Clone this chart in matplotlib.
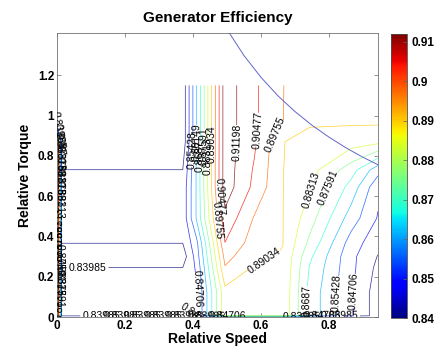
import numpy as np
import matplotlib
matplotlib.use('Agg')
import matplotlib.pyplot as plt
from matplotlib import colors, cm

plt.rcParams['font.family'] = ['Liberation Sans', 'DejaVu Sans']

# grid of the efficiency map (relative speed x relative torque)
speed = [0, 0.014, 0.37, 0.41, 0.494, 0.58, 0.664, 0.744, 0.865, 0.944]
torque = [0, 0.006, 0.12, 0.245, 0.30, 0.367, 0.49, 0.645, 0.73, 0.87, 0.96, 1.15]

# efficiency, one row per torque value (bottom to top)
eff = [
    [0.800, 0.800, 0.800, 0.800, 0.800, 0.800, 0.800, 0.800, 0.800, 0.800],
    [0.930, 0.842, 0.842, 0.846, 0.888, 0.889, 0.889, 0.866, 0.848, 0.836],
    [0.930, 0.842, 0.842, 0.846, 0.888, 0.889, 0.889, 0.866, 0.848, 0.836],
    [0.930, 0.8399, 0.8399, 0.848, 0.897, 0.8895, 0.8895, 0.868, 0.849, 0.838],
    [0.930, 0.836, 0.836, 0.850, 0.900, 0.892, 0.8898, 0.870, 0.849, 0.8395],
    [0.930, 0.8399, 0.8399, 0.852, 0.9046, 0.894, 0.8905, 0.874, 0.851, 0.842],
    [0.930, 0.842, 0.842, 0.862, 0.910, 0.897, 0.8905, 0.879, 0.858, 0.8465],
    [0.930, 0.842, 0.842, 0.862, 0.916, 0.903, 0.8905, 0.884, 0.866, 0.849],
    [0.930, 0.8399, 0.8399, 0.862, 0.916, 0.904, 0.8905, 0.886, 0.872, 0.857],
    [0.930, 0.835, 0.835, 0.861, 0.916, 0.906, 0.8905, 0.8885, 0.8865, 0.885],
    [0.835, 0.835, 0.835, 0.861, 0.916, 0.906, 0.8977, 0.8908, 0.8908, 0.8908],
    [0.835, 0.835, 0.835, 0.861, 0.916, 0.906, 0.8977, 0.894, 0.894, 0.894],
]

levels = [0.83985, 0.84706, 0.85428, 0.86149, 0.86870, 0.87591,
          0.88313, 0.89034, 0.89755, 0.90477, 0.91198]

# maximum power limit curve
limit_speed = [0.50, 0.55, 0.60, 0.65, 0.70, 0.75, 0.80, 0.85, 0.90, 0.944]
limit_torque = [1.428, 1.298, 1.19, 1.098, 1.02, 0.952, 0.893, 0.84, 0.793, 0.756]

cbar_ticks = [0.84, 0.85, 0.86, 0.87, 0.88, 0.89, 0.90, 0.91]

# where the contour labels sit
label_spots = [
    (0.09, 0.245), (0.415, 0.14),
    (0.399, 0.83), (0.410, 0.87), (0.422, 0.80), (0.433, 0.85),
    (0.444, 0.80), (0.455, 0.86), (0.468, 0.48), (0.478, 0.60),
    (0.527, 0.87), (0.586, 0.93), (0.645, 0.90),
    (0.61, 0.28), (0.745, 0.63), (0.80, 0.64),
    (0.74, 0.08), (0.82, 0.12), (0.871, 0.13),
    (0.13, 0.003), (0.17, 0.003), (0.21, 0.003), (0.24, 0.003),
    (0.33, 0.003), (0.38, 0.003), (0.44, 0.003), (0.50, 0.003),
    (0.72, 0.003), (0.78, 0.003), (0.83, 0.003),
    (0.008, 0.08), (0.008, 0.14), (0.008, 0.20), (0.008, 0.27),
    (0.008, 0.33), (0.008, 0.39), (0.008, 0.45), (0.008, 0.58),
    (0.008, 0.64), (0.008, 0.70), (0.008, 0.76), (0.008, 0.82),
    (0.008, 0.88), (0.008, 0.93),
]

fig = plt.figure(figsize=(4.4, 3.55), dpi=100)
ax = fig.add_axes([0.1295, 0.107, 0.7295, 0.8])
cax = fig.add_axes([0.889, 0.104, 0.036, 0.8])

norm = colors.Normalize(vmin=0.84, vmax=0.912)
X, Y = np.meshgrid(speed, torque)
cs = ax.contour(X, Y, np.array(eff), levels=levels, cmap='jet', norm=norm,
                linewidths=0.55, alpha=0.75)
ax.clabel(cs, fmt=lambda v: f'{v:.5g}', fontsize=7.5, inline=True,
          inline_spacing=2, colors='black', manual=label_spots)
for t in cs.labelTexts:
    t.set_alpha(1)

ax.plot(limit_speed, limit_torque, color='#6464cc', linewidth=0.7)

ax.set_xlim(0, 0.944)
ax.set_ylim(0, 1.41)
ax.set_xticks([0, 0.2, 0.4, 0.6, 0.8])
ax.set_xticklabels(['0', '0.2', '0.4', '0.6', '0.8'])
ax.set_yticks([0, 0.2, 0.4, 0.6, 0.8, 1.0, 1.2])
ax.set_yticklabels(['0', '0.2', '0.4', '0.6', '0.8', '1', '1.2'])
ax.tick_params(direction='in', length=3, width=0.5, top=True, right=True,
               labelsize=8.5, pad=2, color='0.4')
for lab in ax.get_xticklabels() + ax.get_yticklabels():
    lab.set_fontweight('bold')
for sp in ax.spines.values():
    sp.set_linewidth(0.6)
    sp.set_color('0.45')

ax.set_xlabel('Relative Speed', fontsize=10, fontweight='bold', labelpad=0)
ax.set_ylabel('Relative Torque', fontsize=10, fontweight='bold', labelpad=4)
ax.set_title('Generator Efficiency', fontsize=11, fontweight='bold', pad=8)

cb = fig.colorbar(cm.ScalarMappable(norm=norm, cmap='jet'), cax=cax)
cb.set_ticks(cbar_ticks)
cb.set_ticklabels(['0.84', '0.85', '0.86', '0.87', '0.88', '0.89', '0.9', '0.91'])
cb.ax.tick_params(direction='in', length=3, width=0.5, labelsize=8.5, pad=3,
                  color='0.4')
for lab in cb.ax.get_yticklabels():
    lab.set_fontweight('bold')
cb.outline.set_linewidth(0.6)
cb.outline.set_edgecolor('0.3')

fig.savefig('out.png', dpi=100)
